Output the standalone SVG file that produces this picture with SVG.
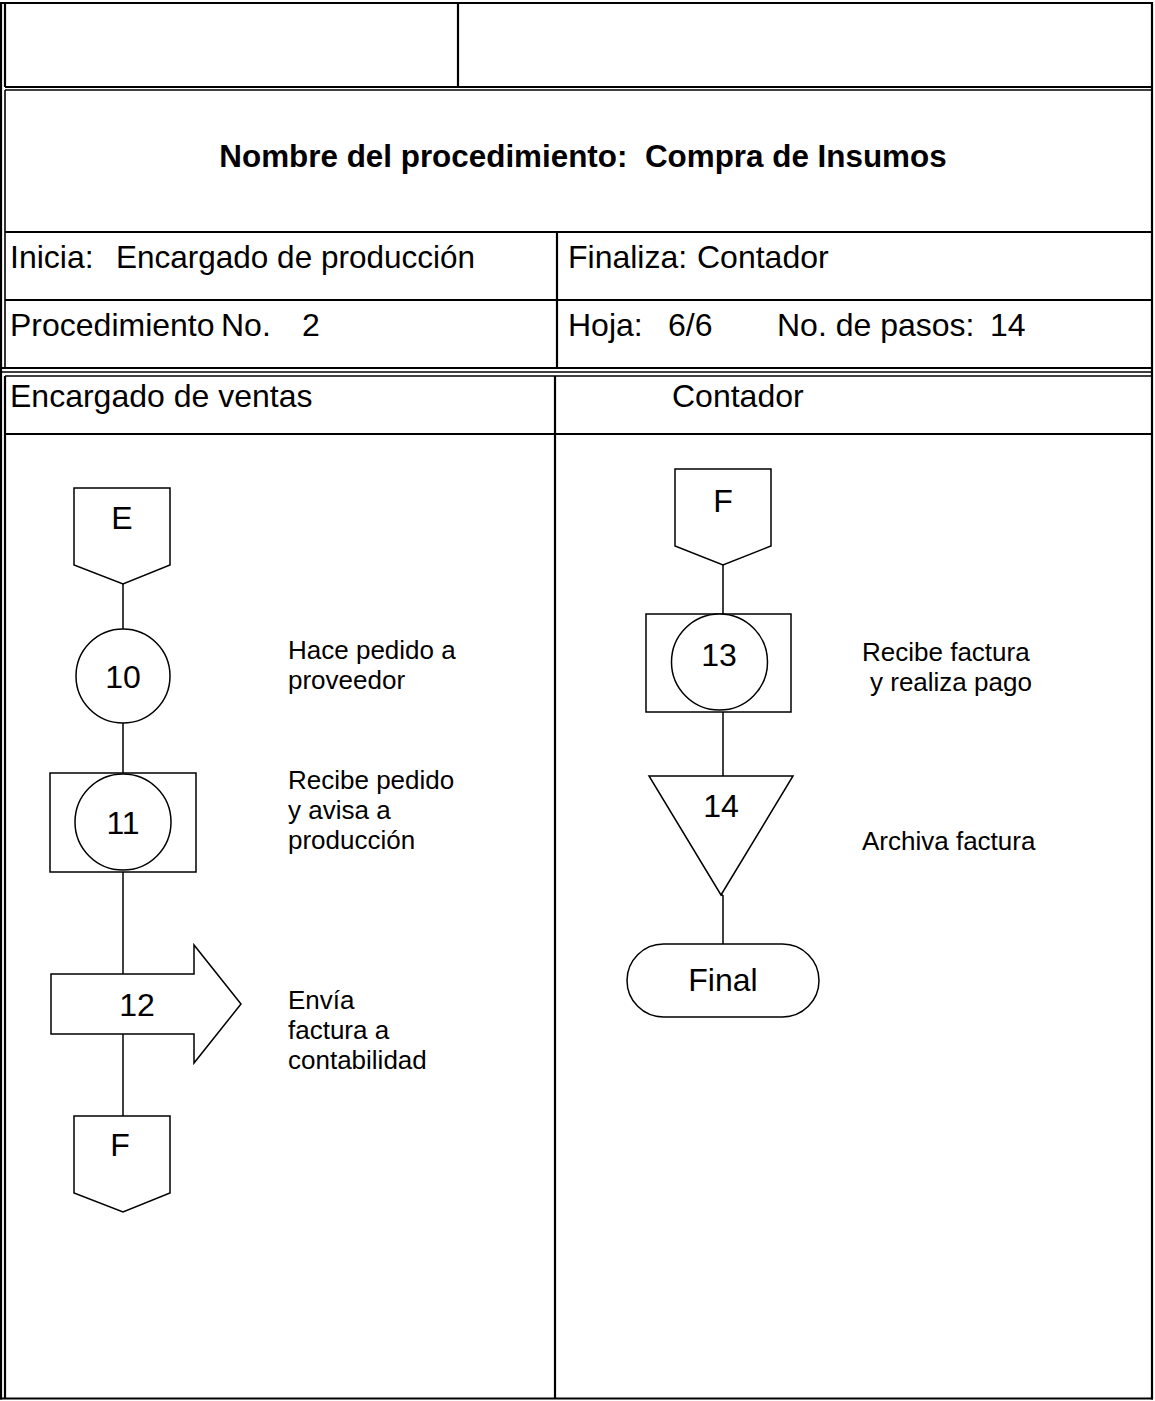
<svg xmlns="http://www.w3.org/2000/svg" width="1155" height="1401" viewBox="0 0 1155 1401">
<style>
  .t { font-family: "Liberation Sans", Arial, sans-serif; font-size: 32px; fill: #000; }
  .b { font-family: "Liberation Sans", Arial, sans-serif; font-size: 31.4px; font-weight: bold; fill: #000; }
  .s { font-family: "Liberation Sans", Arial, sans-serif; font-size: 26px; fill: #000; }
  .c { text-anchor: middle; }
  .frame { stroke: #000; stroke-width: 2.2; fill: none; }
  .thin { stroke: #000; stroke-width: 1.6; fill: none; }
  .shape { stroke: #000; stroke-width: 1.5; fill: #fff; }
  .link { stroke: #000; stroke-width: 1.5; fill: none; }
</style>
<rect width="1155" height="1401" fill="#fff"/>
<g id="table">
  <line class="frame" x1="1" y1="3" x2="1" y2="1399.5"/>
  <line class="frame" x1="0" y1="3" x2="1153" y2="3"/>
  <line class="frame" x1="1152" y1="2" x2="1152" y2="1399.5"/>
  <line class="frame" x1="0" y1="1398.5" x2="1153" y2="1398.5"/>
  <line class="frame" x1="5" y1="3" x2="5" y2="87"/>
  <line class="frame" x1="5" y1="87" x2="1152" y2="87"/>
  <line class="frame" x1="458" y1="3" x2="458" y2="87"/>
  <line class="thin" x1="5" y1="90" x2="1152" y2="90"/>
  <line class="thin" x1="5" y1="90" x2="5" y2="368"/>
  <line class="frame" x1="5" y1="232" x2="1152" y2="232"/>
  <line class="frame" x1="5" y1="300" x2="1152" y2="300"/>
  <line class="frame" x1="557" y1="232" x2="557" y2="368"/>
  <line class="frame" x1="1" y1="368" x2="1152" y2="368"/>
  <line class="thin" x1="1" y1="372" x2="1152" y2="372"/>
  <line class="thin" x1="5" y1="376" x2="1152" y2="376"/>
  <line class="frame" x1="5" y1="376" x2="5" y2="1398.5"/>
  <line class="frame" x1="5" y1="434" x2="1152" y2="434"/>
  <line class="frame" x1="555" y1="376" x2="555" y2="1398.5"/>
</g>
<g id="header-text">
  <text class="b c" x="583" y="167" xml:space="preserve">Nombre del procedimiento:  Compra de Insumos</text>
  <text class="t" x="10" y="268">Inicia:<tspan x="116" textLength="359" lengthAdjust="spacingAndGlyphs">Encargado de producción</tspan></text>
  <text class="t" x="568" y="268">Finaliza:<tspan x="697">Contador</tspan></text>
  <text class="t" x="10" y="336">Procedimiento<tspan x="221">No.</tspan><tspan x="302">2</tspan></text>
  <text class="t" x="568" y="336">Hoja:<tspan x="668">6/6</tspan><tspan x="777">No. de pasos:</tspan><tspan x="990">14</tspan></text>
  <text class="t" x="10" y="407">Encargado de ventas</text>
  <text class="t" x="672" y="407">Contador</text>
</g>
<g id="connectors">
  <line class="link" x1="123" y1="584" x2="123" y2="629"/>
  <line class="link" x1="123" y1="723" x2="123" y2="773"/>
  <line class="link" x1="123" y1="872" x2="123" y2="974"/>
  <line class="link" x1="123" y1="1034" x2="123" y2="1116"/>
  <line class="link" x1="723" y1="565" x2="723" y2="614"/>
  <line class="link" x1="723" y1="712" x2="723" y2="776"/>
  <line class="link" x1="721" y1="895" x2="723" y2="895"/>
  <line class="link" x1="723" y1="895" x2="723" y2="944"/>
</g>
<g id="node-E">
  <polygon class="shape" points="74,488 170,488 170,565 123,584 74,565"/>
  <text class="t c" x="122" y="529">E</text>
</g>
<g id="node-10">
  <circle class="shape" cx="123" cy="676" r="47"/>
  <text class="t c" x="123" y="688">10</text>
  <text class="s" x="288" y="659">Hace pedido a</text>
  <text class="s" x="288" y="689">proveedor</text>
</g>
<g id="node-11">
  <rect class="shape" x="50" y="773" width="146" height="99"/>
  <circle class="shape" cx="123" cy="822" r="48"/>
  <text class="t c" x="123" y="834">11</text>
  <text class="s" x="288" y="789">Recibe pedido</text>
  <text class="s" x="288" y="819">y avisa a</text>
  <text class="s" x="288" y="849">producción</text>
</g>
<g id="node-12">
  <polygon class="shape" points="51,974 194,974 194,945 241,1004 194,1063 194,1034 51,1034"/>
  <text class="t c" x="137" y="1016">12</text>
  <text class="s" x="288" y="1009">Envía</text>
  <text class="s" x="288" y="1039">factura a</text>
  <text class="s" x="288" y="1069">contabilidad</text>
</g>
<g id="node-F-out">
  <polygon class="shape" points="74,1116 170,1116 170,1193 123,1212 74,1193"/>
  <text class="t c" x="120" y="1156">F</text>
</g>
<g id="node-F-in">
  <polygon class="shape" points="675,469 771,469 771,546 723,565 675,546"/>
  <text class="t c" x="723" y="512">F</text>
</g>
<g id="node-13">
  <rect class="shape" x="646" y="614" width="145" height="98"/>
  <circle class="shape" cx="719.5" cy="662" r="48"/>
  <text class="t c" x="719" y="666">13</text>
  <text class="s" x="862" y="661">Recibe factura</text>
  <text class="s" x="870" y="691">y realiza pago</text>
</g>
<g id="node-14">
  <polygon class="shape" points="649,776 793,776 721,895"/>
  <text class="t c" x="721" y="817">14</text>
  <text class="s" x="862" y="850">Archiva factura</text>
</g>
<g id="node-final">
  <rect class="shape" x="627" y="944" width="192" height="73" rx="36.5" ry="36.5"/>
  <text class="t c" x="723" y="991">Final</text>
</g>
</svg>
